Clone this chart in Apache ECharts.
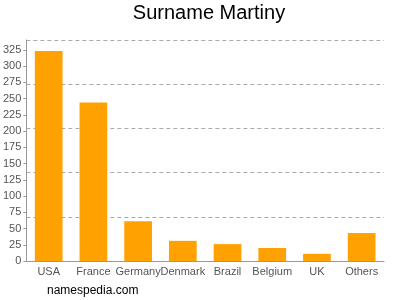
<!DOCTYPE html>
<html>
<head>
    <meta charset="utf-8">
    <title>Surname Martiny</title>
    <script src="https://cdn.jsdelivr.net/npm/echarts@6/dist/echarts.min.js"></script>
    <style>
        html, body { margin: 0; padding: 0; background: #fff; }
        #chart1 { width: 400px; height: 300px; }
    </style>
</head>
<body>
<div id="chart1"></div>
<script type="text/javascript">
    // 数据
    var countries = ['USA', 'France', 'Germany', 'Denmark', 'Brazil', 'Belgium', 'UK', 'Others'];
    var counts = [323, 244, 61, 31, 26, 20, 11, 43];
    var yMax = 340;
    var labelStep = 25;
    var gridStep = 68;

    var myChart1 = echarts.init(document.getElementById('chart1'));

    myChart1.setOption({
        animation: false,
        title: {
            text: 'Surname Martiny',
            left: 204,
            textAlign: 'center',
            top: -2,
            textStyle: { fontFamily: 'Liberation Sans', fontSize: 20, fontWeight: 'normal', color: '#000' }
        },
        graphic: [{
            type: 'text',
            left: 47,
            top: 285,
            style: { text: 'namespedia.com', fontFamily: 'Liberation Sans', fontSize: 12, fill: '#000' }
        }],
        grid: { left: 25, right: 16, top: 40, bottom: 39, containLabel: false },
        xAxis: {
            type: 'category',
            data: countries,
            axisLine: { lineStyle: { color: '#999' } },
            axisTick: { show: false },
            axisLabel: { interval: 0, color: '#555', fontFamily: 'Liberation Sans', fontSize: 11, margin: 5 }
        },
        yAxis: [{
            type: 'value',
            min: 0,
            max: yMax,
            interval: labelStep,
            axisLine: { show: true, lineStyle: { color: '#999' } },
            axisTick: { show: true, length: 3, lineStyle: { color: '#999' } },
            axisLabel: { showMaxLabel: false, color: '#555', fontFamily: 'Liberation Sans', fontSize: 11, margin: 5 },
            splitLine: { show: false }
        }, {
            type: 'value',
            min: 0,
            max: yMax,
            interval: gridStep,
            position: 'left',
            axisLine: { show: false },
            axisTick: { show: false },
            axisLabel: { show: false },
            splitLine: { show: true, lineStyle: { color: '#aaa', type: [4, 3] } }
        }],
        series: [{
            name: 'Martiny',
            type: 'bar',
            data: counts,
            barWidth: '62%',
            itemStyle: { color: '#ffa100' }
        }]
    });
</script>
</body>
</html>
